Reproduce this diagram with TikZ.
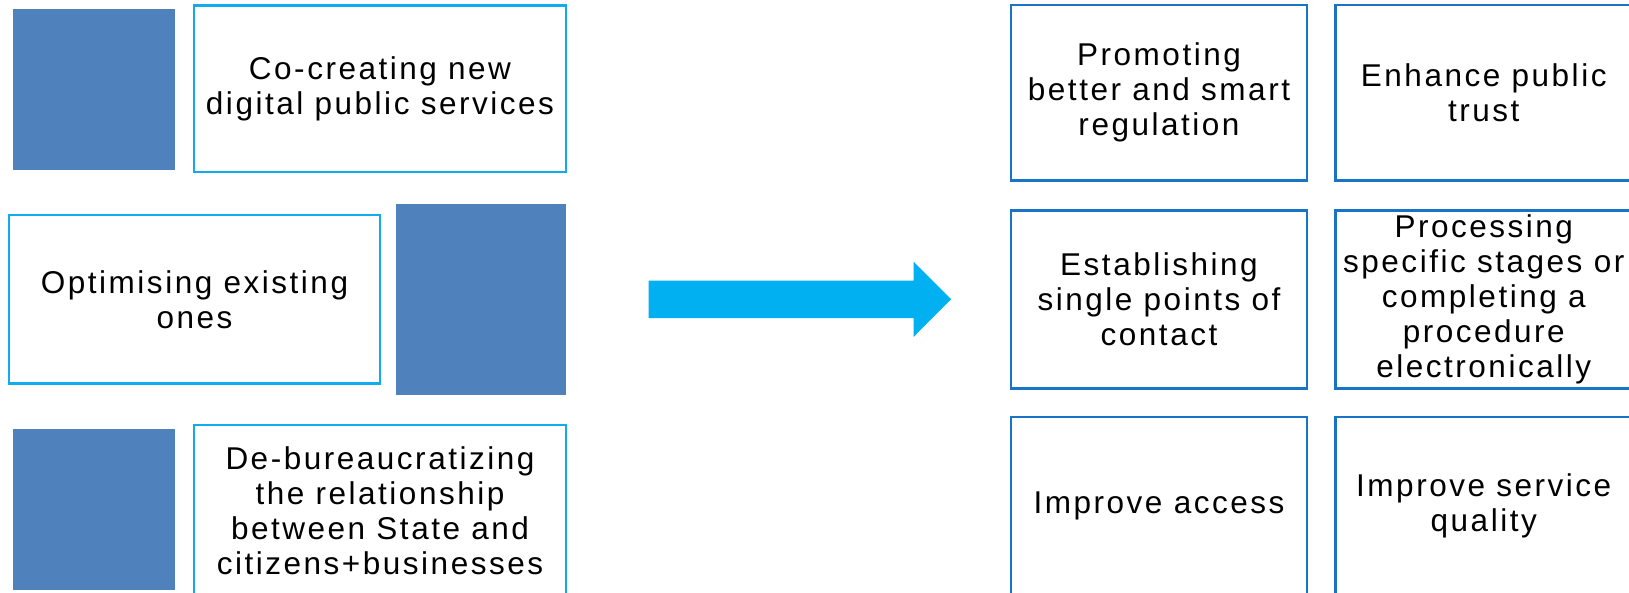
\documentclass[tikz,border=0pt]{standalone}
\usepackage{fontspec}
\setmainfont{Liberation Sans}[LetterSpace=8]
\definecolor{darkfill}{HTML}{4F81BD}
\definecolor{lightline}{HTML}{11ACEE}
\definecolor{rightline}{HTML}{1A74C6}
\definecolor{arrowblue}{HTML}{00B0F0}
\tikzset{
  darksq/.style={fill=darkfill, draw=none, inner sep=0pt},
  lbox/.style={draw=lightline, line width=2.6pt, fill=white, align=center, inner sep=0pt,
    font=\fontsize{31.5}{35}\selectfont},
  rbox/.style={draw=rightline, line width=2.6pt, fill=white, align=center, inner sep=0pt,
    font=\fontsize{31.5}{35}\selectfont},
  bigarrow/.style={fill=arrowblue, draw=none}
}
\begin{document}
\begin{tikzpicture}[x=1pt,y=-1pt]
\useasboundingbox (0,0) rectangle (1629,592);
% left column
\node[darksq, minimum width=161.5pt, minimum height=161.5pt] (d1) at (93.75,89.25) {};
\node[lbox, minimum width=372pt, minimum height=166.5pt] (l1) at (380,88.75) {Co-creating new\\digital public services};
\node[lbox, minimum width=371pt, minimum height=168.5pt] (l2) at (194.5,299.25) {Optimising existing\\ones};
\node[darksq, minimum width=170pt, minimum height=191pt] (d2) at (481,299.5) {};
\node[darksq, minimum width=161.5pt, minimum height=161.5pt] (d3) at (93.75,509.25) {};
\node[lbox, minimum width=372pt, minimum height=171pt] (l3) at (380,510.5) {De-bureaucratizing\\the relationship\\between State and\\citizens+businesses};
% arrow
\fill[bigarrow] (648.5,280.5) -- (913.5,280.5) -- (913.5,261.5) -- (951,299.25)
  -- (913.5,337) -- (913.5,318) -- (648.5,318) -- cycle;
% right grid
\node[rbox, minimum width=296pt, minimum height=175.5pt] (a1) at (1159,92.75) {Promoting\\better and smart\\regulation};
\node[rbox, minimum width=296.5pt, minimum height=175.5pt] (b1) at (1483.75,92.75) {Enhance public\\trust};
\node[rbox, minimum width=296pt, minimum height=178pt] (a2) at (1159,299.5) {Establishing\\single points of\\contact};
\node[rbox, minimum width=296.5pt, minimum height=178pt] (b2) at (1483.75,299.5) {Processing\\specific stages or\\completing a\\procedure\\electronically};
\node[rbox, minimum width=296pt, minimum height=178pt] (a3) at (1159,506) {Improve access};
\node[rbox, minimum width=296.5pt, minimum height=178pt] (b3) at (1483.75,506) {Improve service\\quality};
\end{tikzpicture}
\end{document}
